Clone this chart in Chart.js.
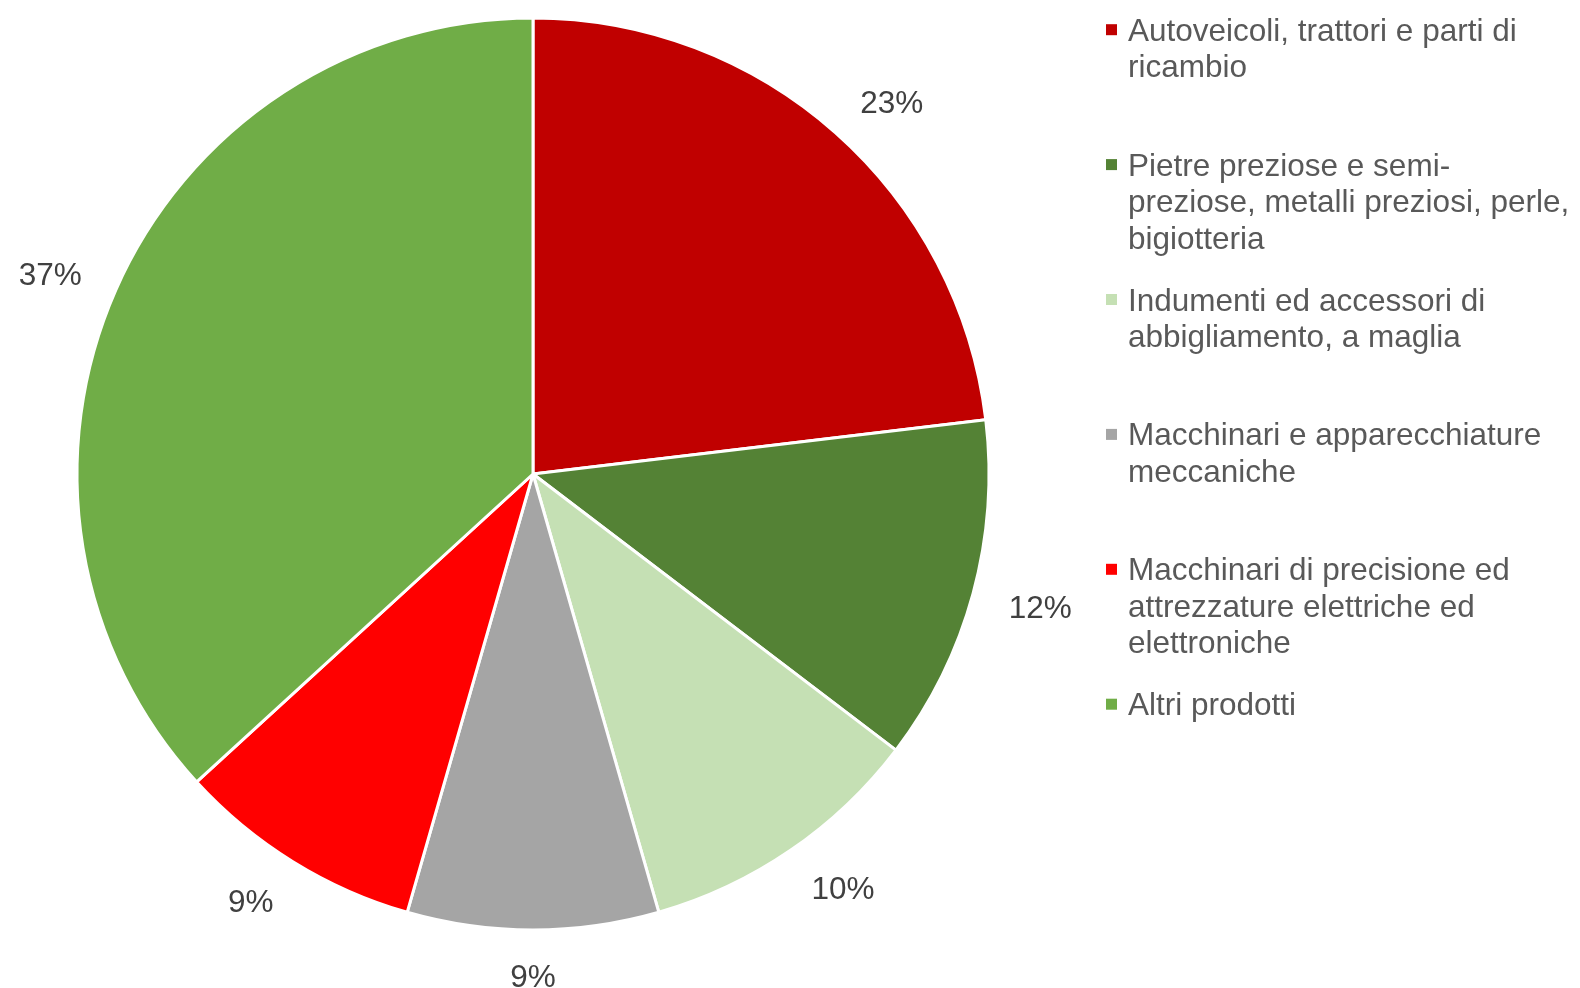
<!DOCTYPE html>
<html>
<head>
<meta charset="utf-8">
<script src="https://cdn.jsdelivr.net/npm/chart.js@4/dist/chart.umd.min.js"></script>
<style>
  html, body { margin: 0; padding: 0; background: #ffffff; overflow: hidden; }
  #wrap { width: 1580px; height: 988px; }
  canvas { display: block; }
</style>
</head>
<body>
<div id="wrap"><canvas id="c" width="1580" height="988"></canvas></div>
<script>
// ---- data ----
const categories = [
  ["Autoveicoli, trattori e parti di", "ricambio"],
  ["Pietre preziose e semi-", "preziose, metalli preziosi, perle,", "bigiotteria"],
  ["Indumenti ed accessori di", "abbigliamento, a maglia"],
  ["Macchinari e apparecchiature", "meccaniche"],
  ["Macchinari di precisione ed", "attrezzature elettriche ed", "elettroniche"],
  ["Altri prodotti"]
];
const shares = [23.1, 12.25, 10.2, 8.9, 8.75, 36.8];
const colors = ["#C00000", "#548235", "#C5E0B4", "#A5A5A5", "#FF0000", "#70AD47"];

const FONT = "31.5px 'Liberation Sans', Arial, sans-serif";

const overlay = {
  id: 'overlay',
  afterDraw(chart) {
    const ctx = chart.ctx;
    const meta = chart.getDatasetMeta(0);
    ctx.save();
    // data labels (outside end)
    ctx.font = FONT;
    ctx.fillStyle = '#404040';
    ctx.textAlign = 'center';
    ctx.textBaseline = 'middle';
    meta.data.forEach((arc, i) => {
      const p = arc.getProps(['x', 'y', 'startAngle', 'endAngle', 'outerRadius'], true);
      const mid = (p.startAngle + p.endAngle) / 2;
      const txt = Math.round(chart.data.datasets[0].data[i]) + '%';
      const w = ctx.measureText(txt).width;
      const dx = Math.cos(mid), dy = Math.sin(mid);
      const gap = 37;
      const ax = p.x + dx * (p.outerRadius + gap);
      const ay = p.y + dy * (p.outerRadius + gap);
      const fx = Math.max(-1, Math.min(1, dx * 4));
      ctx.fillText(txt, ax + fx * w / 2, ay + dy * 7 + 4);
    });
    // legend
    ctx.textAlign = 'left';
    ctx.textBaseline = 'alphabetic';
    const x0 = 1106, tx = 1128, firstBase = 40.7, step = 134.9, lh = 36.5;
    chart.data.labels.forEach((lines, i) => {
      const base = firstBase + i * step;
      ctx.fillStyle = colors[i];
      ctx.fillRect(x0, base - 16.5, 11, 11);
      ctx.fillStyle = '#595959';
      lines.forEach((ln, j) => ctx.fillText(ln, tx, base + j * lh));
    });
    ctx.restore();
  }
};

new Chart(document.getElementById('c'), {
  type: 'pie',
  data: {
    labels: categories,
    datasets: [{
      data: shares,
      backgroundColor: colors,
      borderColor: '#ffffff',
      borderWidth: 3,
      hoverOffset: 0
    }]
  },
  options: {
    responsive: false,
    animation: false,
    devicePixelRatio: 1,
    layout: { padding: { left: 75.5, top: 16.5, right: 589.5, bottom: 56.5 } },
    plugins: {
      legend: { display: false },
      tooltip: { enabled: false }
    }
  },
  plugins: [overlay]
});
</script>
</body>
</html>
